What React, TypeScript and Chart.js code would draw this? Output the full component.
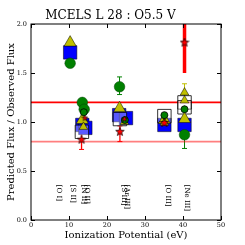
import React, { useEffect, useRef } from 'react';
import { Chart, registerables } from 'chart.js';

Chart.register(...registerables);

const titleText = 'MCELS L 28 : O5.5 V';
const xTitle = 'Ionization Potential (eV)';
const yTitle = 'Predicted Flux / Observed Flux';
const xMin = 0, xMax = 50, xStep = 10;
const yMin = 0, yMax = 2, yStep = 0.5;

// reference ratio lines
const refLineY = [1.2, 0.8];
const refLineColor = ['#ff0000', 'rgba(255,0,0,0.5)'];

// ion labels
const ionLabels = ['[O I]', '[S II]', '[N II]', '[O II]', '[S III]', '[Ar III]', '[O III]', '[Ne III]'];
const ionLabelX = [7.3, 11.0, 13.8, 14.7, 24.3, 25.3, 36.0, 41.0];
const ionLabelTop = 0.36;

// model series
const sqX = [10.3, 13.5, 14.3, 23.2, 25.0, 35.1, 40.4];
const sqY = [1.71, 0.97, 0.94, 1.07, 1.04, 0.97, 0.97];
const openSqX = [13.4, 23.4, 35.1, 40.4, 40.4];
const openSqY = [0.90, 1.03, 1.06, 1.20, 1.15];
const triX = [10.3, 13.5, 23.3, 35.1, 40.4];
const triY = [1.81, 1.02, 1.14, 1.02, 1.03];
const smallTriX = [13.8, 24.6, 35.1, 40.4, 40.4];
const smallTriY = [0.95, 1.00, 0.99, 1.30, 1.22];
const circX = [10.3, 13.5, 14.0, 23.3, 40.4];
const circY = [1.60, 1.20, 1.13, 1.36, 0.87];
const smallCircX = [13.9, 24.7, 35.1, 40.4];
const smallCircY = [1.10, 1.02, 1.07, 1.13];
const starX = [13.3, 23.4, 35.1, 40.4];
const starY = [0.82, 0.90, 0.99, 1.81];
const smallStarX = [14.2, 24.6];
const smallStarY = [1.04, 1.03];

// error bars
const errX = [13.3, 23.4, 23.3, 40.4, 40.4, 40.4, 40.4];
const errLo = [0.72, 0.80, 1.28, 1.50, 1.20, 0.73, 1.08];
const errHi = [0.90, 0.96, 1.46, 2.10, 1.39, 1.00, 1.17];
const errColor = ['#ff0000', '#ff0000', '#008000', '#ff0000', '#bfbf00', '#008000', '#008000'];
const errWidth = [1.3, 1.3, 1, 3.5, 1, 1, 1];
const errCap = [5, 5, 5, 0, 5, 5, 0];

const pts = (xs: number[], ys: number[]) => xs.map((x, i) => ({ x, y: ys[i] }));

function makeStar(size: number, fill: string, stroke: string) {
  const c = document.createElement('canvas');
  c.width = size; c.height = size;
  const ctx = c.getContext('2d')!;
  const cx = size / 2, cy = size / 2, R = size / 2 - 0.5, r = R * 0.42;
  ctx.beginPath();
  for (let i = 0; i < 10; i++) {
    const a = -Math.PI / 2 + (i * Math.PI) / 5;
    const rad = i % 2 === 0 ? R : r;
    ctx.lineTo(cx + rad * Math.cos(a), cy + rad * Math.sin(a));
  }
  ctx.closePath();
  ctx.fillStyle = fill; ctx.fill();
  ctx.lineWidth = 0.7; ctx.strokeStyle = stroke; ctx.stroke();
  return c;
}

const serif = "'DejaVu Serif', serif";

const errorBarPlugin = {
  id: 'errbars',
  beforeDatasetsDraw(chart: any) {
    const { ctx, chartArea: a, scales: { x, y } } = chart;
    ctx.save();
    ctx.beginPath(); ctx.rect(a.left, a.top, a.right - a.left, a.bottom - a.top); ctx.clip();
    for (let i = 0; i < errX.length; i++) {
      const px = x.getPixelForValue(errX[i]);
      const y1 = y.getPixelForValue(errLo[i]);
      const y2 = y.getPixelForValue(errHi[i]);
      ctx.strokeStyle = errColor[i];
      ctx.lineWidth = errWidth[i];
      ctx.beginPath(); ctx.moveTo(px, y1); ctx.lineTo(px, y2); ctx.stroke();
      if (errCap[i]) {
        const h = errCap[i] / 2;
        ctx.lineWidth = 1;
        ctx.beginPath();
        ctx.moveTo(px - h, y1); ctx.lineTo(px + h, y1);
        ctx.moveTo(px - h, y2); ctx.lineTo(px + h, y2);
        ctx.stroke();
      }
    }
    ctx.restore();
  },
};

const labelPlugin = {
  id: 'ionlabels',
  afterDatasetsDraw(chart: any) {
    const { ctx, scales: { x, y } } = chart;
    ctx.save();
    ctx.fillStyle = '#000';
    ctx.font = `7px ${serif}`;
    ctx.textAlign = 'left';
    ctx.textBaseline = 'middle';
    for (let i = 0; i < ionLabels.length; i++) {
      ctx.save();
      ctx.translate(x.getPixelForValue(ionLabelX[i]), y.getPixelForValue(ionLabelTop));
      ctx.rotate(Math.PI / 2);
      ctx.fillText(ionLabels[i], 0, 0);
      ctx.restore();
    }
    ctx.restore();
  },
};

const framePlugin = {
  id: 'frame',
  afterDraw(chart: any) {
    const { ctx, chartArea: a, scales: { x, y } } = chart;
    ctx.save();
    ctx.strokeStyle = '#000';
    ctx.lineWidth = 1;
    ctx.strokeRect(a.left, a.top, a.right - a.left, a.bottom - a.top);
    const tl = 4;
    ctx.beginPath();
    for (let v = xMin; v <= xMax; v += xStep) {
      const px = Math.round(x.getPixelForValue(v)) + 0.5;
      ctx.moveTo(px, a.bottom); ctx.lineTo(px, a.bottom - tl);
      ctx.moveTo(px, a.top); ctx.lineTo(px, a.top + tl);
    }
    for (let v = yMin; v <= yMax + 1e-9; v += yStep) {
      const py = Math.round(y.getPixelForValue(v)) + 0.5;
      ctx.moveTo(a.left, py); ctx.lineTo(a.left + tl, py);
      ctx.moveTo(a.right, py); ctx.lineTo(a.right - tl, py);
    }
    ctx.stroke();
    ctx.restore();
  },
};

export default function App() {
  const ref = useRef<HTMLCanvasElement>(null);
  useEffect(() => {
    const star = makeStar(10, '#ff0000', '#000');
    const smallStar = makeStar(7, '#ff0000', '#000');
    const datasets: any[] = [
      ...refLineY.map((v, i) => ({
        data: [{ x: xMin, y: v }, { x: xMax, y: v }],
        showLine: true, borderColor: refLineColor[i], borderWidth: 1.6,
        pointRadius: 0, order: 20,
      })),
      { data: pts(sqX, sqY), pointStyle: 'rect', pointRadius: 9.5, backgroundColor: '#0000ff', borderColor: '#000', borderWidth: 0.5, order: 10 },
      { data: pts(openSqX, openSqY), pointStyle: 'rect', pointRadius: 9.5, backgroundColor: 'rgba(255,255,255,0.35)', borderColor: '#000', borderWidth: 0.8, order: 9 },
      { data: pts(triX, triY), pointStyle: 'triangle', pointRadius: 7, backgroundColor: '#bfbf00', borderColor: '#000', borderWidth: 0.5, order: 8 },
      { data: pts(circX, circY), pointStyle: 'circle', pointRadius: 5.3, backgroundColor: '#008000', borderColor: '#004000', borderWidth: 0.5, order: 7 },
      { data: pts(smallTriX, smallTriY), pointStyle: 'triangle', pointRadius: 5, backgroundColor: '#bfbf00', borderColor: '#000', borderWidth: 0.5, order: 6 },
      { data: pts(smallCircX, smallCircY), pointStyle: 'circle', pointRadius: 3.5, backgroundColor: '#008000', borderColor: '#000', borderWidth: 0.8, order: 5 },
      { data: pts(smallStarX, smallStarY), pointStyle: smallStar, order: 4 },
      { data: pts(starX, starY), pointStyle: star, order: 3 },
    ];
    const chart = new Chart(ref.current!, {
      type: 'scatter',
      data: { datasets },
      options: {
        animation: false,
        responsive: false,
        maintainAspectRatio: false,
        layout: { padding: { left: 0, right: 24, top: 0, bottom: 0 } },
        plugins: {
          legend: { display: false },
          tooltip: { enabled: false },
          title: {
            display: true, text: titleText, color: '#000',
            font: { family: serif, size: 12, weight: 'normal' },
            padding: { top: 8.6, bottom: 1 },
          },
        },
        scales: {
          x: {
            type: 'linear', min: xMin, max: xMax,
            ticks: { stepSize: xStep, color: '#000', font: { family: serif, size: 6.5 }, padding: 1.5 },
            grid: { display: false, drawTicks: false },
            border: { display: false },
            title: { display: true, text: xTitle, color: '#000', font: { family: serif, size: 10 }, padding: { top: 0, bottom: 4 } },
            afterFit: (s: any) => { s.height = 25; },
          },
          y: {
            type: 'linear', min: yMin, max: yMax,
            ticks: { stepSize: yStep, color: '#000', font: { family: serif, size: 6.5 }, padding: 4, callback: (v: any) => Number(v).toFixed(1) },
            grid: { display: false, drawTicks: false },
            border: { display: false },
            title: { display: true, text: yTitle, color: '#000', font: { family: serif, size: 10 }, padding: { top: 5, bottom: 0 } },
            afterFit: (s: any) => { s.width = 31; },
          },
        },
      } as any,
      plugins: [errorBarPlugin, labelPlugin, framePlugin],
    });
    return () => chart.destroy();
  }, []);
  return (
    <div style={{ position: 'fixed', left: 0, top: 0, width: 245, height: 245, background: '#fff' }}>
      <canvas ref={ref} width={245} height={245} style={{ display: 'block', width: 245, height: 245 }} />
    </div>
  );
}
